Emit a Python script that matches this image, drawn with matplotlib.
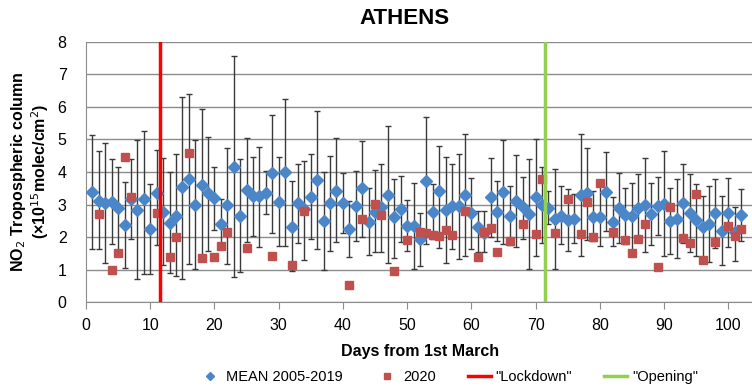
import numpy as np
import matplotlib as mpl
import matplotlib.pyplot as plt

mpl.rcParams["font.family"] = ["Liberation Sans", "DejaVu Sans"]

days = np.arange(1, 103)

mean_0519 = [3.39, 3.11, 3.04, 3.07, 2.88, 2.37, 3.16, 2.83, 3.18, 2.24,
             3.34, 2.78, 2.44, 2.66, 3.53, 3.79, 3.00, 3.60, 3.34, 3.19,
             2.40, 2.98, 4.16, 2.65, 3.45, 3.26, 3.26, 3.37, 3.96, 3.07,
             3.99, 2.30, 3.04, 2.85, 3.24, 3.75, 2.49, 3.04, 3.43, 3.04,
             2.26, 2.97, 3.51, 2.47, 2.78, 2.91, 3.29, 2.63, 2.85, 2.35,
             2.35, 1.93, 3.73, 2.78, 3.42, 2.83, 2.96, 2.96, 3.29, 2.73,
             2.32, 2.12, 3.22, 2.78, 3.39, 2.65, 3.11, 2.91, 2.71, 3.22,
             2.99, 2.90, 2.55, 2.66, 2.53, 2.55, 3.29, 3.34, 2.63, 2.63,
             3.39, 2.47, 2.88, 2.69, 2.66, 2.88, 3.00, 2.71, 2.97, 3.02,
             2.49, 2.57, 3.04, 2.75, 2.53, 2.30, 2.40, 2.73, 2.20, 2.73,
             2.16, 2.68]

err_top = [5.14, 4.63, 4.88, 4.39, 4.16, 3.68, 4.40, 4.98, 5.26, 3.63,
           4.66, 4.42, 3.99, 4.54, 6.31, 6.39, 4.98, 5.92, 5.08, 4.16,
           3.18, 4.75, 7.56, 4.41, 5.04, 4.45, 4.78, 4.04, 5.74, 4.47,
           6.23, 3.73, 4.26, 4.35, 4.55, 5.86, 4.01, 4.50, 5.03, 3.98,
           3.12, 4.04, 4.96, 3.51, 4.06, 4.26, 5.41, 3.79, 3.88, 3.14,
           3.65, 2.75, 5.70, 3.63, 4.81, 4.45, 4.26, 4.55, 5.16, 3.81,
           2.80, 2.80, 4.43, 3.71, 4.98, 3.57, 4.52, 3.85, 4.39, 5.00,
           4.16, 3.43, 4.10, 3.57, 3.49, 3.31, 5.16, 4.75, 3.43, 3.65,
           4.60, 3.24, 3.98, 3.50, 3.67, 3.94, 4.43, 3.65, 3.85, 4.63,
           3.50, 3.78, 4.26, 3.93, 3.63, 3.27, 3.58, 3.77, 3.26, 3.81,
           2.93, 3.47]

err_bottom = [1.65, 1.63, 1.22, 1.79, 1.52, 1.05, 1.93, 0.71, 0.86, 0.86,
              1.75, 1.13, 0.89, 0.81, 0.73, 1.17, 1.01, 1.35, 1.56, 2.22,
              1.63, 1.18, 0.77, 0.93, 1.85, 2.03, 1.71, 2.70, 2.12, 1.73,
              1.73, 0.97, 1.81, 1.30, 1.95, 1.65, 0.99, 1.58, 1.84, 2.12,
              1.40, 1.88, 2.01, 1.45, 1.54, 1.53, 1.20, 1.35, 1.85, 1.56,
              1.03, 1.11, 1.79, 1.93, 1.66, 1.22, 1.63, 1.32, 1.42, 1.65,
              1.54, 1.54, 2.01, 1.87, 1.79, 1.77, 1.71, 1.95, 1.03, 1.42,
              1.81, 2.40, 1.01, 1.79, 1.58, 1.81, 1.42, 1.91, 1.89, 1.73,
              2.19, 1.74, 1.83, 1.79, 1.45, 1.84, 1.54, 1.76, 2.07, 1.42,
              1.47, 1.37, 1.81, 1.55, 1.43, 1.26, 1.25, 1.66, 1.13, 1.69,
              1.27, 1.87]

days_2020 = [2, 4, 5, 6, 7, 11, 13, 14, 16, 18, 20, 21, 22, 25, 29, 32, 34,
             41, 43, 45, 46, 48, 50, 52, 53, 54, 55, 56, 57, 59, 61, 62, 63,
             64, 66, 68, 70, 71, 73, 75, 77, 78, 79, 80, 82, 84, 85, 86, 87,
             89, 91, 93, 94, 95, 96, 98, 100, 101, 102]
values_2020 = [2.72, 0.98, 1.50, 4.47, 3.24, 2.75, 1.40, 1.99, 4.59, 1.35,
               1.38, 1.74, 2.15, 1.66, 1.43, 1.15, 2.81, 0.54, 2.57, 3.01,
               2.67, 0.95, 1.92, 2.15, 2.14, 2.07, 2.03, 2.22, 2.06, 2.79,
               1.38, 2.16, 2.27, 1.54, 1.89, 2.41, 2.11, 3.77, 2.14, 3.18,
               2.09, 3.08, 2.01, 3.65, 2.15, 1.90, 1.50, 1.93, 2.41, 1.09,
               2.93, 1.97, 1.81, 3.33, 1.31, 1.86, 2.34, 2.04, 2.25]

lockdown_day = 11.5
opening_day = 71.5

mean_arr = np.array(mean_0519)
yerr = [mean_arr - np.array(err_bottom), np.array(err_top) - mean_arr]

fig = plt.figure(figsize=(7.52, 3.90), dpi=100)
ax = fig.add_axes([0.1144, 0.2249, 0.8856, 0.6682])

ax.set_xlim(0, 103.7)
ax.set_ylim(0, 8)
ax.set_yticks(range(0, 9))
ax.set_xticks(range(0, 101, 10))
ax.grid(axis="y", color="#8c8c8c", linewidth=1)
ax.set_axisbelow(True)
for s in ["top", "right"]:
    ax.spines[s].set_visible(False)
ax.spines["left"].set_color("#8c8c8c")
ax.spines["bottom"].set_color("#8c8c8c")
ax.tick_params(axis="y", length=0, labelsize=11.5, pad=14)
ax.tick_params(axis="x", length=5, color="#8c8c8c", labelsize=11.5, pad=6)

ax.errorbar(days, mean_arr, yerr=yerr, fmt="none", ecolor="#3a3a3a",
            elinewidth=1, capsize=2.5, capthick=1, zorder=2)
ax.plot(days, mean_arr, linestyle="none", marker="D", markersize=6,
        color="#4a86c8", label="MEAN 2005-2019", zorder=3)
ax.plot(days_2020, values_2020, linestyle="none", marker="s", markersize=5.8,
        color="#c0504d", label="2020", zorder=4)
ax.axvline(lockdown_day, color="#ff0000", linewidth=2.5, label='"Lockdown"', zorder=5)
ax.axvline(opening_day, color="#92d050", linewidth=2.5, label='"Opening"', zorder=5)

fig.text(0.538, 0.952, "ATHENS", ha="center", va="center", fontsize=16, fontweight="bold")
fig.text(0.04, 0.56, "NO$_2$ Tropospheric column\n(\u00d710$^{15}$molec/cm$^2$)",
         ha="center", va="center", rotation=90, fontsize=11.5, fontweight="bold",
         linespacing=1.1)
fig.text(0.558, 0.098, "Days from 1st March", ha="center", va="center",
         fontsize=11.5, fontweight="bold")

handles, labels = ax.get_legend_handles_labels()
leg = fig.legend(handles, labels, loc="center", bbox_to_anchor=(0.596, 0.033),
                 ncol=4, frameon=False, fontsize=10.5, handlelength=1.6,
                 columnspacing=2.2, markerscale=0.65, handletextpad=0.3)

plt.savefig("out.png", dpi=100)
plt.close()
